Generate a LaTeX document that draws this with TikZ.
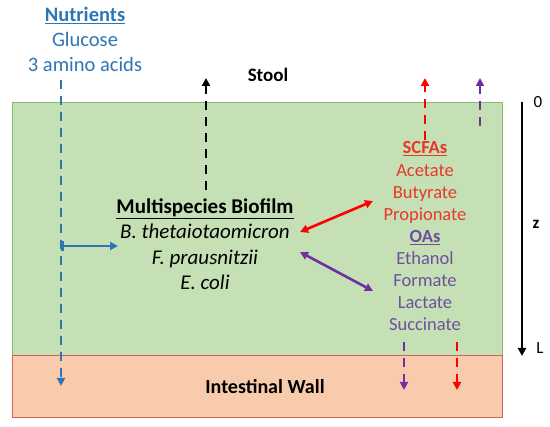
\documentclass[tikz,border=0pt]{standalone}
\usepackage{fontspec}
\setmainfont{Carlito}
\usetikzlibrary{arrows.meta}
\definecolor{nblue}{HTML}{2E75B6}
\definecolor{nred}{HTML}{FF0000}
\definecolor{tred}{HTML}{E8382A}
\definecolor{npurple}{HTML}{7030A0}
\definecolor{tpurple}{HTML}{6F4F9E}
\definecolor{gfill}{HTML}{C5E0B4}
\definecolor{gline}{HTML}{82BF6E}
\definecolor{ofill}{HTML}{F8CBAD}
\definecolor{oline}{HTML}{D0625A}
\begin{document}
\begin{tikzpicture}[x=1pt,y=-1pt,
  txt/.style={font=\fontsize{20.5}{24}\selectfont, inner sep=0pt, anchor=base},
  rtxt/.style={font=\fontsize{18.5}{22}\selectfont, inner sep=0pt, anchor=base},
  dash line/.style={line width=2.8pt, dash pattern=on 9pt off 7pt},
  tip/.style={-{Triangle[length=8pt,width=8pt]}},
  dtip/.style={{Triangle[length=8pt,width=8pt]}-{Triangle[length=8pt,width=8pt]}}]
\useasboundingbox (0,0) rectangle (550,427);
\node[draw=gline, fill=gfill, line width=0.8pt, minimum width=490pt, minimum height=253pt, anchor=north west, inner sep=0pt] (bio) at (12,102) {};
\node[draw=oline, fill=ofill, line width=0.8pt, minimum width=490pt, minimum height=62pt, anchor=north west, inner sep=0pt] (wall) at (12,355) {};
% left texts
\node[txt, text=nblue, font=\fontsize{20.5}{24}\selectfont\bfseries] (nut) at (85,22) {\underline{Nutrients}};
\node[txt, text=nblue] (glu) at (85,47) {Glucose};
\node[txt, text=nblue] (amino) at (85,72) {3 amino acids};
\coordinate (bt) at (61,80);
\coordinate (bb) at (61,386);
\draw[nblue, dash line, tip] (bt) -- (bb);
\coordinate (bh) at (61,246);
\coordinate (bhe) at (118,246);
\draw[nblue, line width=2.6pt, {Bar[width=10pt]}-{Triangle[length=8pt,width=8pt]}] (bh) -- (bhe);
% stool
\node[txt, font=\fontsize{19}{22}\selectfont\bfseries] (stool) at (268,82) {Stool};
\coordinate (s1) at (206,190);
\coordinate (s2) at (206,78);
\draw[black, dash line, tip] (s1) -- (s2);
% biofilm
\node[txt, font=\fontsize{21}{24}\selectfont\bfseries] (mb) at (205,214) {\underline{Multispecies Biofilm}};
\node[txt, font=\fontsize{21}{24}\selectfont\itshape] (bth) at (205,239) {B. thetaiotaomicron};
\node[txt, font=\fontsize{21}{24}\selectfont\itshape] (fp) at (205,265) {F. prausnitzii};
\node[txt, font=\fontsize{21}{24}\selectfont\itshape] (ec) at (205,290) {E. coli};
% right column
\node[rtxt, text=tred, font=\fontsize{18.5}{22}\selectfont\bfseries] (scfa) at (425,154) {\underline{SCFAs}};
\node[rtxt, text=tred] (ace) at (425,177) {Acetate};
\node[rtxt, text=tred] (but) at (425,199) {Butyrate};
\node[rtxt, text=tred] (pro) at (425,221) {Propionate};
\node[rtxt, text=tpurple, font=\fontsize{18.5}{22}\selectfont\bfseries] (oas) at (425,243) {\underline{OAs}};
\node[rtxt, text=tpurple] (eth) at (425,265) {Ethanol};
\node[rtxt, text=tpurple] (for) at (425,287) {Formate};
\node[rtxt, text=tpurple] (lac) at (425,309) {Lactate};
\node[rtxt, text=tpurple] (suc) at (425,331) {Succinate};
% double arrows
\coordinate (ra) at (300,232);
\coordinate (rb) at (373,201);
\draw[nred, line width=2.6pt, dtip] (ra) -- (rb);
\coordinate (pa) at (300,252);
\coordinate (pb) at (373,291);
\draw[npurple, line width=2.6pt, dtip] (pa) -- (pb);
% top out arrows
\coordinate (r1) at (425,140);
\coordinate (r2) at (425,78);
\draw[nred, dash line, tip] (r1) -- (r2);
\coordinate (p1) at (480,126);
\coordinate (p2) at (480,78);
\draw[npurple, dash line, tip] (p1) -- (p2);
% bottom arrows
\coordinate (p3) at (404,342);
\coordinate (p4) at (404,390);
\draw[npurple, dash line, tip] (p3) -- (p4);
\coordinate (r3) at (457,342);
\coordinate (r4) at (457,390);
\draw[nred, dash line, tip] (r3) -- (r4);
% z axis
\coordinate (z0) at (522,102);
\coordinate (zL) at (522,356);
\draw[black, line width=2pt, tip] (z0) -- (zL);
\node[txt, font=\fontsize{17}{20}\selectfont] (zero) at (538,108) {0};
\node[txt, font=\fontsize{17}{20}\selectfont\bfseries] (zz) at (536,229) {z};
\node[txt, font=\fontsize{17}{20}\selectfont] (ll) at (540,354) {L};
% wall
\node[txt, font=\fontsize{20}{24}\selectfont\bfseries] (iw) at (265,394) {Intestinal Wall};
\end{tikzpicture}
\end{document}
